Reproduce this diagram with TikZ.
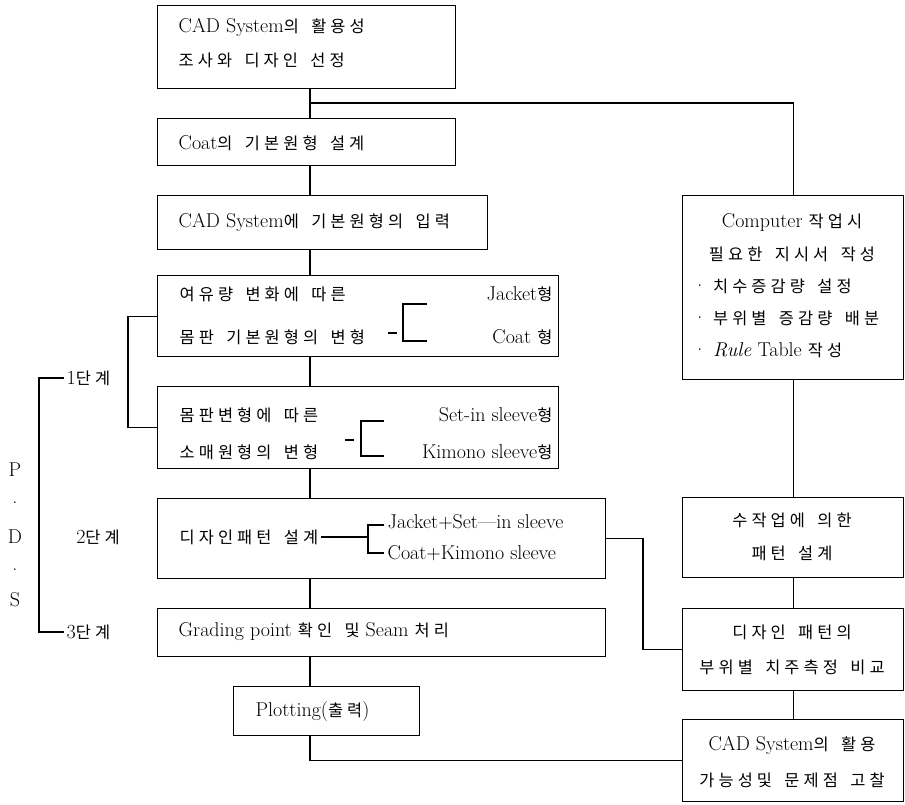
\documentclass[tikz,border=0pt]{standalone}
\usepackage{fontspec}
\newfontfamily\krfont{Noto Sans CJK KR}[Scale=0.82,LetterSpace=25,WordSpace=1.6]
\newcommand\kor[1]{{\krfont #1}}
\newcommand\fs{\fontsize{20pt}{22pt}\selectfont}
\begin{document}
\begin{tikzpicture}[x=1pt,y=-1pt,line width=1.3pt,
  box/.style={draw,line width=1.4pt,rectangle,inner sep=0pt,anchor=north west},
  lbl/.style={inner sep=0pt,anchor=west,font=\fs},
  lblc/.style={inner sep=0pt,font=\fs}]
\useasboundingbox (0,0) rectangle (905,804);
% main column boxes
\node[box,minimum width=298pt,minimum height=83pt] (b1) at (157,5) {};
\node[box,minimum width=298pt,minimum height=47pt] (b2) at (157,118) {};
\node[box,minimum width=330pt,minimum height=54pt] (b3) at (157,195) {};
\node[box,minimum width=401pt,minimum height=81pt] (b4) at (157,275) {};
\node[box,minimum width=401pt,minimum height=82pt] (b5) at (157,386) {};
\node[box,minimum width=448pt,minimum height=80pt] (b6) at (157,498) {};
\node[box,minimum width=448pt,minimum height=48pt] (b7) at (157,608) {};
\node[box,minimum width=186pt,minimum height=49pt] (pl) at (233,686) {};
% right column boxes
\node[box,minimum width=221pt,minimum height=184pt] (c1) at (682,195) {};
\node[box,minimum width=221pt,minimum height=80pt] (c2) at (682,497) {};
\node[box,minimum width=221pt,minimum height=82pt] (c3) at (682,608) {};
\node[box,minimum width=221pt,minimum height=82pt] (c4) at (682,719) {};
% texts main column
\node[lbl] (t1a) at (178,27) {CAD System\kor{의 활용성}};
\node[lbl] (t1b) at (178,60) {\kor{조사와 디자인 선정}};
\node[lbl] (t2) at (178,143) {Coat\kor{의 기본원형 설계}};
\node[lbl] (t3) at (178,222) {CAD System\kor{에 기본원형의 입력}};
\node[lbl] (t4a) at (179,294) {\kor{여유량 변화에 따른}};
\node[lbl] (t4b) at (179,337) {\kor{몸판 기본원형의 변형}};
\node[lbl,anchor=east] (t4c) at (553,294) {Jacket\kor{형}};
\node[lbl,anchor=east] (t4d) at (553,337) {Coat \kor{형}};
\draw (388,333) -- (397,333);
\draw (427,304) -- (403,304) -- (403,341) -- (427,341);
\node[lbl] (t5a) at (179,415) {\kor{몸판변형에 따른}};
\node[lbl] (t5b) at (179,452) {\kor{소매원형의 변형}};
\node[lbl,anchor=east] (t5c) at (553,415) {Set-in sleeve\kor{형}};
\node[lbl,anchor=east] (t5d) at (553,452) {Kimono sleeve\kor{형}};
\draw (345,440) -- (354,440);
\draw (384,421) -- (361,421) -- (361,456) -- (384,456);
\node[lbl] (t6a) at (179,537) {\kor{디자인패턴 설계}};
\draw ([xshift=2pt]t6a.east) -- (368,537);
\draw (384,525) -- (368,525) -- (368,553) -- (384,553);
\node[lbl] (t6b) at (387,522) {Jacket+Set—in sleeve};
\node[lbl] (t6c) at (387,553) {Coat+Kimono sleeve};
\node[lbl] (t7) at (178,632) {Grading point \kor{확인 및} Seam \kor{처리}};
\node[lbl] (tp) at (255,711) {Plotting(\kor{출력})};
% texts right column
\node[lblc] (tc1) at (792,222) {Computer \kor{작업시}};
\node[lblc] (tc2) at (792,254) {\kor{필요한 지시서 작성}};
\node[lbl] (tc3) at (692,286) {·\ \kor{치수증감량 설정}};
\node[lbl] (tc4) at (692,318) {·\ \kor{부위별 증감량 배분}};
\node[lbl] (tc5) at (692,350) {·\ \textit{Rule} Table \kor{작성}};
\node[lblc] (tm1) at (792,520) {\kor{수작업에 의한}};
\node[lblc] (tm2) at (792,553) {\kor{패턴 설계}};
\node[lblc] (td1) at (792,632) {\kor{디자인 패턴의}};
\node[lblc] (td2) at (792,667) {\kor{부위별 치주측정 비교}};
\node[lblc] (tf1) at (792,745) {CAD System\kor{의 활용}};
\node[lblc] (tf2) at (792,780) {\kor{가능성및 문제점 고찰}};
% left labels
\node[lbl] (s1) at (66,378) {1\kor{단계}};
\node[lblc] (s2) at (98,537) {2\kor{단계}};
\node[lbl] (s3) at (66,632) {3\kor{단계}};
\node[lblc] (pp) at (15,470) {P};
\node[lblc] (pd1) at (15,503) {.};
\node[lblc] (pd) at (15,537) {D};
\node[lblc] (pd2) at (15,570) {.};
\node[lblc] (ps) at (15,600) {S};
% connectors
\coordinate (sp) at (310,0);
\coordinate (j1) at (310,103);
\coordinate (kx) at (643,0);
\coordinate (br1) at (128,0);
\coordinate (pds) at (39,0);
\draw (b1.south -| sp) -- (b2.north -| sp);
\draw (b2.south -| sp) -- (b3.north -| sp);
\draw (b3.south -| sp) -- (b4.north -| sp);
\draw (b4.south -| sp) -- (b5.north -| sp);
\draw (b5.south -| sp) -- (b6.north -| sp);
\draw (b6.south -| sp) -- (b7.north -| sp);
\draw (b7.south -| sp) -- (pl.north -| sp);
\draw (pl.south -| sp) |- (c4.west);
\draw (j1) -| (c1.north);
\draw (c1.south) -- (c2.north);
\draw (c2.south) -- (c3.north);
\draw (c3.south) -- (c4.north);
\draw (b6.east) -- (b6.east -| kx) |- (c3.west);
\draw (b4.west) -- (b4.west -| br1) -- (b5.west -| br1) -- (b5.west);
\draw ([xshift=-2pt]s1.west) -- (s1.west -| pds) -- (s3.west -| pds) -- ([xshift=-2pt]s3.west);
\end{tikzpicture}
\end{document}
